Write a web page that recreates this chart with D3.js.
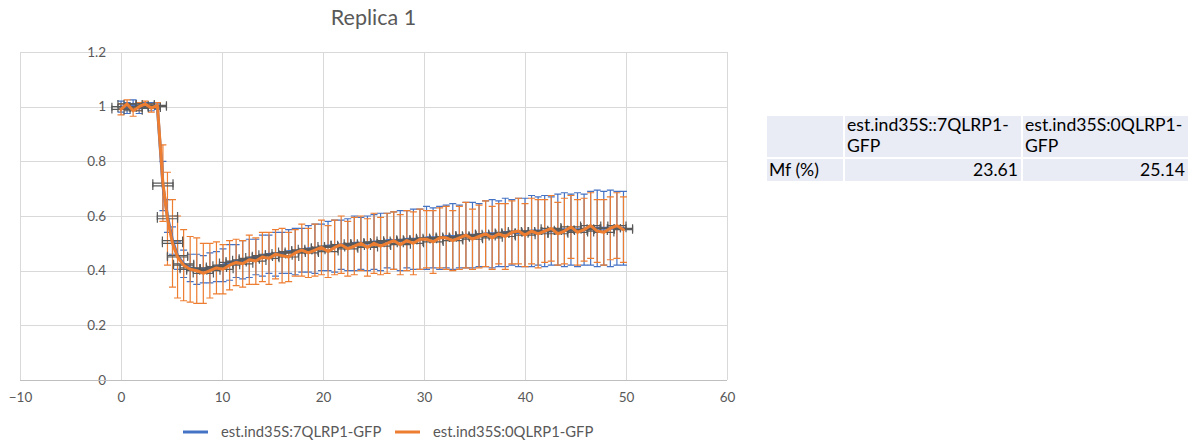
<!DOCTYPE html>
<html>
<head>
<meta charset="utf-8">
<script src="https://cdn.jsdelivr.net/npm/d3@7"></script>
<style>
  body { margin: 0; background: #fff; }
  svg { display: block; font-family: Lato, "Open Sans", sans-serif; }
</style>
</head>
<body>
<script>
// Sampling times (s): pre-bleach, bleach drop, recovery
const times = [
  0, 0.6, 1.2, 1.8, 2.4, 3.0, 3.6,
  4.15, 4.6, 5.1, 5.6,
  6.2, 6.85, 7.5, 8.15, 8.8, 9.45, 10.1, 10.75, 11.4, 12.05,
  12.7, 13.35, 14.0, 14.65, 15.3, 15.95, 16.6, 17.25, 17.9, 18.55,
  19.2, 19.85, 20.5, 21.15, 21.8, 22.45, 23.1, 23.75, 24.4, 25.05,
  25.7, 26.35, 27.0, 27.65, 28.3, 28.95, 29.6, 30.25, 30.9, 31.55,
  32.2, 32.85, 33.5, 34.15, 34.8, 35.45, 36.1, 36.75, 37.4, 38.05,
  38.7, 39.35, 40.0, 40.65, 41.3, 41.95, 42.6, 43.25, 43.9, 44.55,
  45.2, 45.85, 46.5, 47.15, 47.8, 48.45, 49.1, 49.75
];
// Time uncertainty (s) shown as horizontal error bars
const timeErr = [
  0.9, 0.9, 0.9, 0.9, 0.9, 0.9, 0.9,
  1.0, 1.0, 1.0, 1.0,
  1.0, 1.0, 1.0, 1.0, 1.0, 1.0, 1.0, 1.0, 1.0, 1.0,
  1.0, 1.0, 1.0, 1.0, 1.0, 1.0, 1.0, 1.0, 1.0, 1.0,
  1.0, 1.0, 1.0, 1.0, 1.0, 1.0, 1.0, 1.0, 1.0, 1.0,
  1.0, 1.0, 1.0, 1.0, 1.0, 1.0, 1.0, 1.0, 1.0, 1.0,
  1.0, 1.0, 1.0, 1.0, 1.0, 1.0, 1.0, 1.0, 1.0, 1.0,
  1.0, 1.0, 1.0, 1.0, 1.0, 1.0, 1.0, 1.0, 1.0, 1.0,
  1.0, 1.0, 1.0, 1.0, 1.0, 1.0, 0.9, 0.9
];

// Normalised fluorescence, est.ind35S:7QLRP1-GFP
const mean7Q = [
  1.0, 0.995, 1.01, 0.995, 1.005, 1.0, 1.0,
  0.71, 0.60, 0.51, 0.455,
  0.425, 0.41, 0.405, 0.405, 0.41, 0.415, 0.42, 0.43, 0.435, 0.44,
  0.445, 0.45, 0.455, 0.46, 0.46, 0.465, 0.47, 0.47, 0.475, 0.48,
  0.48, 0.485, 0.49, 0.49, 0.495, 0.495, 0.50, 0.50, 0.50, 0.505,
  0.505, 0.51, 0.51, 0.51, 0.515, 0.515, 0.515, 0.52, 0.52, 0.52,
  0.525, 0.525, 0.525, 0.53, 0.53, 0.53, 0.535, 0.535, 0.535, 0.54,
  0.54, 0.54, 0.54, 0.545, 0.545, 0.545, 0.545, 0.55, 0.55, 0.55,
  0.55, 0.55, 0.555, 0.555, 0.555, 0.555, 0.555, 0.555
];
const sd7Q = [
  0.02, 0.02, 0.015, 0.02, 0.01, 0.015, 0.01,
  0.09, 0.06, 0.05, 0.05,
  0.05, 0.05, 0.055, 0.05, 0.055, 0.055, 0.06, 0.065, 0.06, 0.07,
  0.07, 0.065, 0.075, 0.07, 0.08, 0.075, 0.08, 0.085, 0.08, 0.085,
  0.09, 0.085, 0.09, 0.095, 0.09, 0.095, 0.1, 0.095, 0.1, 0.1,
  0.105, 0.1, 0.105, 0.11, 0.105, 0.11, 0.11, 0.115, 0.11, 0.115,
  0.115, 0.12, 0.115, 0.12, 0.12, 0.115, 0.12, 0.125, 0.12, 0.125,
  0.12, 0.125, 0.125, 0.13, 0.125, 0.13, 0.125, 0.13, 0.135, 0.13,
  0.135, 0.13, 0.135, 0.14, 0.135, 0.14, 0.135, 0.135
];

// Normalised fluorescence, est.ind35S:0QLRP1-GFP
const mean0Q = [
  0.99, 1.01, 0.985, 1.0, 1.01, 0.995, 1.005,
  0.72, 0.59, 0.50, 0.45,
  0.42, 0.405, 0.40, 0.39, 0.40, 0.41, 0.405, 0.42, 0.43, 0.425,
  0.44, 0.435, 0.45, 0.445, 0.46, 0.455, 0.45, 0.465, 0.475, 0.465,
  0.475, 0.485, 0.47, 0.485, 0.495, 0.48, 0.49, 0.50, 0.485, 0.50,
  0.49, 0.50, 0.51, 0.495, 0.51, 0.50, 0.515, 0.515, 0.505, 0.52,
  0.52, 0.51, 0.52, 0.53, 0.515, 0.525, 0.535, 0.52, 0.535, 0.525,
  0.54, 0.545, 0.53, 0.545, 0.535, 0.545, 0.555, 0.535, 0.545, 0.56,
  0.54, 0.55, 0.565, 0.545, 0.54, 0.555, 0.565, 0.55
];
const sd0Q = [
  0.02, 0.015, 0.02, 0.015, 0.01, 0.015, 0.01,
  0.14, 0.17, 0.16, 0.15,
  0.13, 0.12, 0.12, 0.11, 0.10, 0.095, 0.09, 0.09, 0.085, 0.085,
  0.09, 0.085, 0.09, 0.095, 0.09, 0.1, 0.09, 0.085, 0.095, 0.09,
  0.095, 0.1, 0.095, 0.1, 0.105, 0.1, 0.105, 0.1, 0.105, 0.11,
  0.105, 0.11, 0.105, 0.11, 0.11, 0.115, 0.11, 0.105, 0.115, 0.11,
  0.115, 0.11, 0.115, 0.12, 0.11, 0.115, 0.12, 0.115, 0.11, 0.12,
  0.115, 0.12, 0.115, 0.12, 0.125, 0.115, 0.12, 0.115, 0.12, 0.115,
  0.12, 0.115, 0.12, 0.115, 0.12, 0.115, 0.12, 0.12
];

const seriesNames = ["est.ind35S:7QLRP1-GFP", "est.ind35S:0QLRP1-GFP"];
const seriesColors = ["#4472C4", "#ED7D31"];
const xTicks = [-10, 0, 10, 20, 30, 40, 50, 60];
const yTicks = [0, 0.2, 0.4, 0.6, 0.8, 1, 1.2];
const chartTitle = "Replica 1";

// Summary table (mobile fraction)
const tableHeader = ["", "est.ind35S::7QLRP1-\nGFP", "est.ind35S:0QLRP1-\nGFP"];
const tableRow = ["Mf (%)", "23.61", "25.14"];

const W = 1202, H = 446;
const svg = d3.select("body").append("svg").attr("width", W).attr("height", H);

const x = d3.scaleLinear().domain([-10, 60]).range([20, 727]);
const y = d3.scaleLinear().domain([0, 1.2]).range([380, 52]);

const gridColor = "#d9d9d9";
const labelColor = "#595959";

// Title
svg.append("text")
  .attr("x", (x.range()[0] + x.range()[1]) / 2)
  .attr("y", 25)
  .attr("text-anchor", "middle")
  .attr("fill", labelColor)
  .style("font-size", "21.5px")
  .text(chartTitle);

// Grid
const grid = svg.append("g");
grid.selectAll("line.h").data(yTicks).join("line")
  .attr("x1", x(-10)).attr("x2", x(60))
  .attr("y1", d => Math.round(y(d)) + 0.5).attr("y2", d => Math.round(y(d)) + 0.5)
  .attr("stroke", gridColor).attr("stroke-width", 1);
grid.selectAll("line.v").data(xTicks).join("line")
  .attr("x1", d => Math.round(x(d)) + 0.5).attr("x2", d => Math.round(x(d)) + 0.5)
  .attr("y1", y(1.2)).attr("y2", y(0))
  .attr("stroke", gridColor).attr("stroke-width", 1);

// Axes (labels only; the grid carries the lines)
const xAxis = svg.append("g")
  .attr("transform", `translate(0,${y(0)})`)
  .call(d3.axisBottom(x).tickValues(xTicks).tickSize(0).tickPadding(12).tickFormat(d3.format("d")));
const yAxis = svg.append("g")
  .attr("transform", `translate(${x(0)},0)`)
  .call(d3.axisLeft(y).tickValues(yTicks).tickSize(0).tickPadding(15).tickFormat(d3.format("~g")));
[xAxis, yAxis].forEach(g => {
  g.select(".domain").remove();
  g.selectAll("text").attr("fill", labelColor).style("font-size", "13.5px").style("font-family", "Lato, sans-serif");
});
svg.append("line")
  .attr("x1", x(-10)).attr("x2", x(60))
  .attr("y1", Math.round(y(0)) + 0.5).attr("y2", Math.round(y(0)) + 0.5)
  .attr("stroke", "#bfbfbf");

// Series records
const series = [mean7Q, mean0Q].map((vals, s) => ({
  name: seriesNames[s],
  color: seriesColors[s],
  points: times.map((t, i) => ({ t, v: vals[i], sd: (s === 0 ? sd7Q : sd0Q)[i], te: timeErr[i] }))
}));

const plot = svg.append("g");
const cap = 3.5;
const line = d3.line().x(p => x(p.t)).y(p => y(p.v));

function drawSD(s) {
  const g = plot.append("g").attr("stroke", s.color).attr("stroke-width", 1.2).attr("fill", "none");
  g.selectAll("path").data(s.points).join("path")
    .attr("d", p => {
      const px = x(p.t), y0 = y(p.v - p.sd), y1 = y(p.v + p.sd);
      return `M${px},${y0}V${y1}M${px - cap},${y1}H${px + cap}M${px - cap},${y0}H${px + cap}`;
    });
}
function drawTimeErr(s) {
  const g = plot.append("g").attr("stroke", "#595959").attr("stroke-width", 1.2).attr("fill", "none");
  g.selectAll("path").data(s.points).join("path")
    .attr("d", p => {
      const py = y(p.v), x0 = x(p.t - p.te), x1 = x(p.t + p.te);
      return `M${x0},${py}H${x1}M${x0},${py - 4}V${py + 4}M${x1},${py - 4}V${py + 4}`;
    });
}
function drawLine(s) {
  plot.append("path").datum(s.points)
    .attr("d", line)
    .attr("fill", "none")
    .attr("stroke", s.color)
    .attr("stroke-width", 3)
    .attr("stroke-linejoin", "round")
    .attr("stroke-linecap", "round");
}

// Vertical SD bars under everything, then blue curve, time bars, orange curve on top
series.forEach(drawSD);
drawLine(series[0]);
series.forEach(drawTimeErr);
drawLine(series[1]);

// Legend
const legend = svg.append("g").attr("transform", "translate(0,432)");
const legendX = [183, 395];
series.forEach((s, i) => {
  legend.append("line")
    .attr("x1", legendX[i]).attr("x2", legendX[i] + 25)
    .attr("y1", 0).attr("y2", 0)
    .attr("stroke", s.color).attr("stroke-width", 3);
  legend.append("text")
    .attr("x", legendX[i] + 38).attr("y", 0).attr("dy", "0.35em")
    .attr("fill", labelColor).style("font-size", "14.8px")
    .text(s.name);
});

// Summary table
const colEdges = [[767, 843], [845, 1021], [1023, 1188]];
const rowEdges = [[116, 157], [159, 181]];
const table = svg.append("g").style("font-size", "17.6px");
[tableHeader, tableRow].forEach((row, r) => {
  row.forEach((cell, c) => {
    const [cx0, cx1] = colEdges[c];
    const [ry0, ry1] = rowEdges[r];
    table.append("rect")
      .attr("x", cx0).attr("y", ry0)
      .attr("width", cx1 - cx0).attr("height", ry1 - ry0)
      .attr("fill", "#E9EBF5");
    const lines = cell.split("\n");
    const numeric = r === 1 && c > 0;
    const tx = numeric ? cx1 - 3 : cx0 + 2;
    const t = table.append("text")
      .attr("x", tx)
      .attr("text-anchor", numeric ? "end" : "start")
      .attr("fill", "#000");
    lines.forEach((ln, k) => {
      t.append("tspan")
        .attr("x", tx)
        .attr("y", ry0 + (r === 0 ? 15 : 17) + k * 21)
        .text(ln);
    });
  });
});
</script>
</body>
</html>
